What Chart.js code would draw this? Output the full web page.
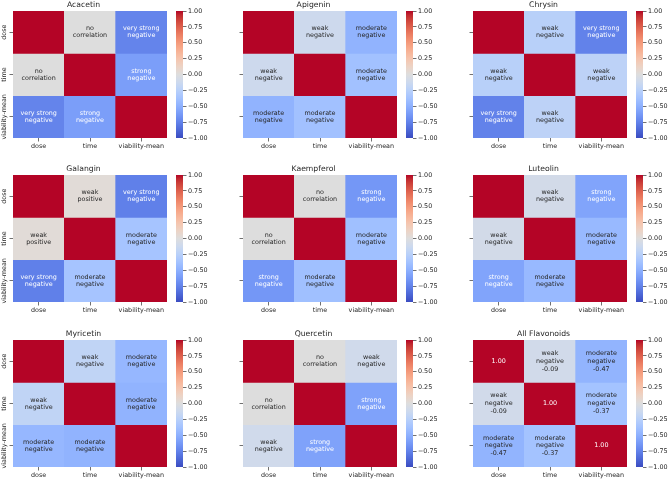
<!DOCTYPE html>
<html><head><meta charset="utf-8">
<script src="https://cdn.jsdelivr.net/npm/chart.js@4.4.1/dist/chart.umd.min.js"></script>
<style>
html,body{margin:0;padding:0;background:#fff;}
#wrap{position:relative;width:669px;height:480px;overflow:hidden;background:#fff;}
#wrap canvas{position:absolute;}
</style></head><body><div id="wrap"></div>
<script>
// ---- data ----
const flavonoids = ['Acacetin','Apigenin','Chrysin','Galangin','Kaempferol','Luteolin','Myricetin','Quercetin','All Flavonoids'];
const variables = ['dose','time','viability-mean'];
const doseTime = [0.00, -0.12, -0.25, 0.03, 0.00, -0.08, -0.20, 0.00, -0.09];
const doseViab = [-0.74, -0.48, -0.75, -0.76, -0.64, -0.57, -0.45, -0.10, -0.47];
const timeViab = [-0.60, -0.38, -0.22, -0.36, -0.39, -0.44, -0.48, -0.58, -0.37];
const doseTimeLabel = ['no correlation','weak negative','weak negative','weak positive','no correlation','weak negative','weak negative','no correlation','weak negative'];
const doseViabLabel = ['very strong negative','moderate negative','very strong negative','very strong negative','strong negative','strong negative','moderate negative','weak negative','moderate negative'];
const timeViabLabel = ['strong negative','moderate negative','weak negative','moderate negative','moderate negative','moderate negative','moderate negative','strong negative','moderate negative'];
const showValues = [false,false,false,false,false,false,false,false,true];
const colorbarTicks = [-1,-0.75,-0.5,-0.25,0,0.25,0.5,0.75,1];

// ---- style ----
const F = '"DejaVu Sans", sans-serif';
const TXT = '#262626';
const COOLWARM = [[59,76,192],[68,90,204],[77,104,215],[87,117,225],[98,130,234],[108,142,241],[119,154,247],[130,165,251],[141,176,254],[152,185,255],[163,194,255],[174,201,253],[184,208,249],[194,213,244],[204,217,238],[213,219,230],[221,221,221],[229,216,209],[236,211,197],[241,204,185],[245,196,173],[247,187,160],[247,177,148],[247,166,135],[244,154,123],[241,141,111],[236,127,99],[229,112,88],[222,96,77],[213,80,66],[203,62,56],[192,40,47],[180,4,38]];
function cmapRGB(v){
  let s = (Math.max(-1,Math.min(1,v))+1)/2*(COOLWARM.length-1);
  let i = Math.min(Math.floor(s), COOLWARM.length-2), f = s-i;
  const a = COOLWARM[i], b = COOLWARM[i+1];
  return a.map((c,k)=>Math.round(c+(b[k]-c)*f));
}
const rgbStr = c => `rgb(${c[0]},${c[1]},${c[2]})`;
function textColor(v){
  const lin = cmapRGB(v).map(c=>{c/=255;return c<=0.03928?c/12.92:Math.pow((c+0.055)/1.055,2.4);});
  const lum = 0.2126*lin[0]+0.7152*lin[1]+0.0722*lin[2];
  return lum > 0.408 ? TXT : '#ffffff';
}
const fmtCb = v => (v<0?'\u2212':'') + Math.abs(v).toFixed(2);

// ---- layout ----
const colLeft = [13,243,473], rowTop = [11,175,340];
const hmW = 154, hmH = 127, yAxW = 13, xAxH = 16, titleH = 11, cbGap = 9, cbW = 7;

const annotate = {
  id:'annotate',
  afterDatasetsDraw(chart, args, o){
    const {ctx, scales:{x,y}} = chart;
    ctx.save();
    ctx.font = '6.4px ' + F;
    ctx.textAlign = 'center'; ctx.textBaseline = 'middle';
    for (let r=0;r<3;r++) for (let c=0;c<3;c++){
      const v = o.matrix[r][c];
      let lines = [];
      if (r===c){ if (o.showValues) lines=[v.toFixed(2)]; }
      else {
        const s = o.labels[r][c], k = s.lastIndexOf(' ');
        lines = [s.slice(0,k), s.slice(k+1)];
        if (o.showValues) lines.push(v.toFixed(2));
      }
      const cx = x.getPixelForValue(c);
      const cy = (y.getPixelForValue(r)+y.getPixelForValue(r+1))/2;
      ctx.fillStyle = textColor(v);
      const lh = lines.length>2 ? 7.8 : 7.3;
      lines.forEach((t,i)=>ctx.fillText(t, cx, cy+(i-(lines.length-1)/2)*lh));
    }
    if (o.rowLabels){
      ctx.fillStyle = TXT;
      for (let r=0;r<3;r++){
        ctx.save();
        ctx.translate(chart.chartArea.left-8.6, y.getPixelForValue(r+0.5));
        ctx.rotate(-Math.PI/2);
        ctx.fillText(variables[r],0,0);
        ctx.restore();
      }
    }
    ctx.restore();
  }
};

const wrap = document.getElementById('wrap');
function mkCanvas(l,t,w,h){
  const c = document.createElement('canvas');
  c.width = w; c.height = h;
  c.style.left = l+'px'; c.style.top = t+'px';
  c.style.width = w+'px'; c.style.height = h+'px';
  wrap.appendChild(c);
  return c;
}

flavonoids.forEach((name, idx)=>{
  const col = idx%3, row = Math.floor(idx/3);
  const L = colLeft[col], T = rowTop[row];
  const m = [
    [1, doseTime[idx], doseViab[idx]],
    [doseTime[idx], 1, timeViab[idx]],
    [doseViab[idx], timeViab[idx], 1]
  ];
  const lab = [
    ['', doseTimeLabel[idx], doseViabLabel[idx]],
    [doseTimeLabel[idx], '', timeViabLabel[idx]],
    [doseViabLabel[idx], timeViabLabel[idx], '']
  ];
  const cv = mkCanvas(L-yAxW, T-titleH, yAxW+hmW+yAxW, titleH+hmH+xAxH);
  new Chart(cv, {
    type:'bar',
    data:{
      labels: variables,
      datasets: variables.map((rv,r)=>({
        data: variables.map(()=>[r, r+1]),
        backgroundColor: variables.map((cvv,c)=>rgbStr(cmapRGB(m[r][c]))),
        grouped:false, barPercentage:1, categoryPercentage:1,
        borderWidth:0, borderSkipped:false
      }))
    },
    options:{
      responsive:false, animation:false, events:[],
      layout:{padding:{left:0,right:yAxW,top:0,bottom:0}},
      plugins:{
        legend:{display:false}, tooltip:{enabled:false},
        title:{display:true, text:name, color:TXT,
          font:{family:F,size:7.7,weight:'normal',lineHeight:1.2},
          padding:{top:0,bottom:titleH-7.7*1.2}},
        annotate:{matrix:m, labels:lab, showValues:showValues[idx], rowLabels: col===0}
      },
      scales:{
        x:{type:'category', offset:true,
          grid:{display:true, drawOnChartArea:false, drawTicks:true, tickLength:3.5, offset:false, color:'#333', lineWidth:0.7},
          border:{display:false},
          ticks:{font:{family:F,size:6.4}, color:TXT, padding:1.2, maxRotation:0, minRotation:0, autoSkip:false},
          afterFit(s){ s.height = xAxH; }
        },
        y:{type:'linear', min:0, max:3, reverse:true,
          afterBuildTicks(s){ s.ticks = [0.5,1.5,2.5].map(v=>({value:v})); },
          ticks:{display:false},
          grid:{display:true, drawOnChartArea:false, drawTicks:true, tickLength:3.5, color:'#333', lineWidth:0.7},
          border:{display:false},
          afterFit(s){ s.width = yAxW; }
        }
      }
    },
    plugins:[annotate]
  });

  // colorbar
  const cbc = mkCanvas(L+hmW+cbGap, T-6, cbW+30, hmH+12);
  new Chart(cbc, {
    type:'bar',
    data:{labels:[''], datasets:[{
      data:[[-1,1]],
      backgroundColor(ctx){
        const ca = ctx.chart.chartArea;
        if (!ca) return 'rgba(0,0,0,0)';
        const g = ctx.chart.ctx.createLinearGradient(0, ca.bottom, 0, ca.top);
        COOLWARM.forEach((c,i)=>g.addColorStop(i/(COOLWARM.length-1), rgbStr(c)));
        return g;
      },
      barPercentage:1, categoryPercentage:1, borderWidth:0, borderSkipped:false
    }]},
    options:{
      responsive:false, animation:false, events:[],
      layout:{padding:{top:6,bottom:6,left:0,right:0}},
      plugins:{legend:{display:false}, tooltip:{enabled:false}},
      scales:{
        x:{display:false},
        y:{position:'right', min:-1, max:1,
          afterBuildTicks(s){ s.ticks = colorbarTicks.map(v=>({value:v})); },
          ticks:{callback:(v)=>fmtCb(v), font:{family:F,size:6.4}, color:TXT, padding:1.5},
          grid:{display:true, drawOnChartArea:false, drawTicks:true, tickLength:3.5, color:'#333', lineWidth:0.7},
          border:{display:false},
          afterFit(s){ s.width = 30; }
        }
      }
    }
  });
});
</script>
</body></html>
